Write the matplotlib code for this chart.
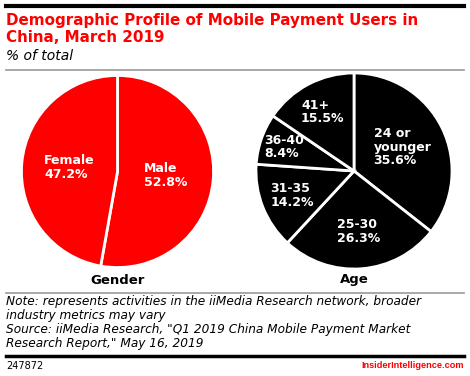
import numpy as np
import matplotlib
matplotlib.use("Agg")
import matplotlib.pyplot as plt
from matplotlib.lines import Line2D

# Data
gender_labels = ["Male", "Female"]
gender_values = [52.8, 47.2]
age_labels = ["24 or\nyounger", "25-30", "31-35", "36-40", "41+"]
age_values = [35.6, 26.3, 14.2, 8.4, 15.5]

RED = "#FF0000"
W, H = 470, 376

plt.rcParams['font.family'] = ['DejaVu Sans']

fig = plt.figure(figsize=(W / 100, H / 100), dpi=100)
fig.patch.set_facecolor("white")


def fx(px):
    return px / W


def fy(py):
    return 1 - py / H


def hline(y, lw, color, x0=6, x1=464):
    fig.add_artist(Line2D([fx(x0), fx(x1)], [fy(y), fy(y)], lw=lw, color=color,
                          transform=fig.transFigure))


def draw_pie(cx, cy, r, values, labels, color, dists, name):
    ax = fig.add_axes([fx(cx - r), fy(cy + r), fx(2 * r), (2 * r) / H])
    wedges, _ = ax.pie(values, colors=[color] * len(values), startangle=90,
                       counterclock=False, radius=1,
                       wedgeprops=dict(edgecolor="white", linewidth=2))
    # labels placed along each wedge's mid-angle
    for w, lab, val, d in zip(wedges, labels, values, dists):
        ang = np.deg2rad((w.theta1 + w.theta2) / 2)
        ax.text(d * np.cos(ang), d * np.sin(ang), f"{lab}\n{val:.1f}%",
                ha="center", va="center", ma="left", color="white",
                fontsize=9, fontweight="bold", linespacing=1.05)
    ax.set_xlim(-1.01, 1.01)
    ax.set_ylim(-1.01, 1.01)
    ax.set_aspect("equal")
    ax.axis("off")
    fig.text(fx(cx), fy(280), name, ha="center", va="center",
             fontsize=9.5, fontweight="bold", color="black")


# Header
hline(5.5, 3, "black")
fig.text(fx(6), fy(20), "Demographic Profile of Mobile Payment Users in",
         ha="left", va="center", fontsize=10.9, fontweight="bold", color=RED)
fig.text(fx(6), fy(37), "China, March 2019",
         ha="left", va="center", fontsize=10.9, fontweight="bold", color=RED)
fig.text(fx(6), fy(56), "% of total", ha="left", va="center",
         fontsize=10, style="italic", color="black")
hline(70, 1.2, "#999999")

# Pies
draw_pie(117.5, 171.5, 97, gender_values, gender_labels, RED,
         [0.5, 0.5], "Gender")
draw_pie(354, 171, 99, age_values, age_labels, "black",
         [0.55, 0.62, 0.68, 0.75, 0.68], "Age")

# Footer
hline(293, 1.2, "#999999")
notes = ["Note: represents activities in the iiMedia Research network, broader",
         "industry metrics may vary",
         "Source: iiMedia Research, \"Q1 2019 China Mobile Payment Market",
         "Research Report,\" May 16, 2019"]
for i, line in enumerate(notes):
    fig.text(fx(6), fy(302 + i * 13.7), line, ha="left", va="center",
             fontsize=8.7, style="italic", color="black")
hline(356, 2.5, "black")
fig.text(fx(6), fy(366), "247872", ha="left", va="center",
         fontsize=7, color="black")
fig.text(fx(464), fy(366), "InsiderIntelligence.com", ha="right", va="center",
         fontsize=6.6, fontweight="bold", color=RED,
         family=["Liberation Sans", "DejaVu Sans"])

fig.savefig("out.png", dpi=100)
